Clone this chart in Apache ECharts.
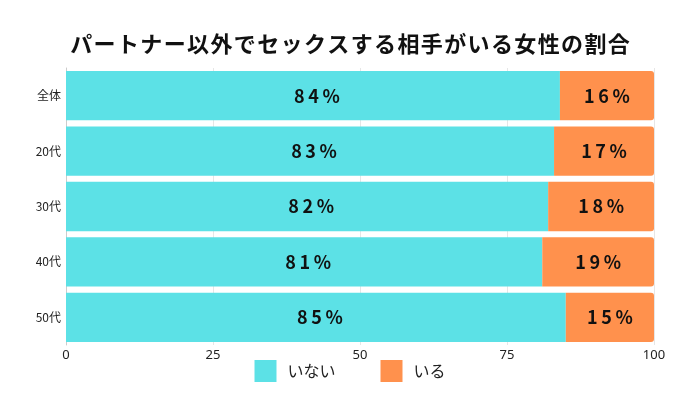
<!DOCTYPE html>
<html><head><meta charset="utf-8">
<script src="https://cdn.jsdelivr.net/npm/echarts@6/dist/echarts.min.js"></script>
<style>html,body{margin:0;padding:0;background:#fff}#c{width:700px;height:400px}</style>
</head><body><div id="c"></div>
<script>
const categories = ['全体', '20代', '30代', '40代', '50代'];
const inai = [84, 83, 82, 81, 85];
const iru = [16, 17, 18, 19, 15];
const xTicks = [0, 25, 50, 75, 100];
const titleText = 'パートナー以外でセックスする相手がいる女性の割合';

const chart = echarts.init(document.getElementById('c'));
const spaced = s => String(s).split('').join('\u2009');
chart.setOption({
  animation: false,
  title: {
    text: titleText.split('').join('\u200A'),
    left: 'center', top: 28,
    textStyle: { fontFamily: 'Noto Sans CJK JP', fontSize: 22, fontWeight: 'bold', color: '#111' }
  },
  grid: { left: 66, right: 46, top: 68, bottom: 55 },
  xAxis: {
    type: 'value', min: 0, max: 100, interval: 25,
    axisLabel: { fontSize: 13, color: '#222', fontFamily: 'Noto Sans', margin: 4 },
    splitLine: { show: true, lineStyle: { color: '#e6e6e6' } },
    axisLine: { show: false }, axisTick: { show: false }
  },
  yAxis: {
    type: 'category', data: categories, inverse: true,
    axisLabel: { fontSize: 12, color: '#222', fontFamily: 'Noto Sans CJK JP', margin: 5 },
    axisLine: { show: true, lineStyle: { color: '#cccccc' } },
    axisTick: { show: false }
  },
  legend: {
    bottom: 13, left: 'center', itemWidth: 22, itemHeight: 22, itemGap: 45,
    icon: 'rect',
    textStyle: { fontSize: 16, color: '#222', fontFamily: 'Noto Sans CJK JP', padding: [0, 0, 0, 6] },
    data: ['いない', 'いる']
  },
  series: [
    {
      name: 'いない', type: 'bar', stack: 'a', data: inai, barCategoryGap: '11%',
      itemStyle: { color: '#5CE1E6' },
      label: { show: true, position: 'inside', offset: [4, 0], formatter: p => spaced(p.value + '%'), fontSize: 18, fontWeight: 'bold', color: '#111', fontFamily: 'Noto Sans CJK JP' }
    },
    {
      name: 'いる', type: 'bar', stack: 'a', data: iru,
      itemStyle: { color: '#FF914D', borderRadius: [0, 3, 3, 0] },
      label: { show: true, position: 'inside', formatter: p => spaced(p.value + '%'), fontSize: 18, fontWeight: 'bold', color: '#111', fontFamily: 'Noto Sans CJK JP' }
    }
  ]
});
</script></body></html>
